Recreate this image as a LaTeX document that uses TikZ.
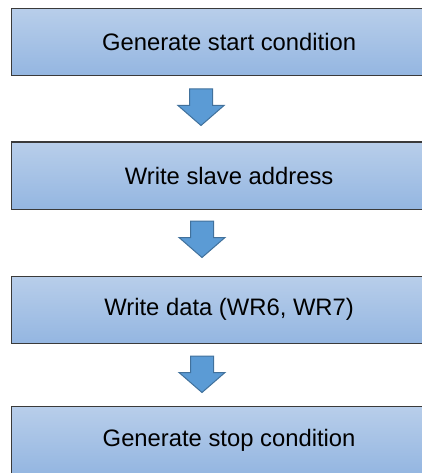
\documentclass[tikz,border=0pt]{standalone}
\usepackage{fontspec}
\setmainfont{Liberation Sans}
\definecolor{boxtop}{HTML}{B8CEEA}
\definecolor{boxbot}{HTML}{94B6E1}
\definecolor{boxline}{HTML}{3A3A3A}
\definecolor{arrfill}{HTML}{5B9BD5}
\definecolor{arrline}{HTML}{41719C}
\begin{document}
\begin{tikzpicture}[x=1pt,y=-1pt,
  stepbox/.style={draw=boxline, line width=1.2pt, top color=boxtop, bottom color=boxbot,
    minimum width=436pt, minimum height=67pt, inner sep=0pt, anchor=north west,
    font=\fontsize{23.8}{28}\selectfont},
  blockarrow/.style={draw=arrline, fill=arrfill, line width=1pt, line join=miter}]
\useasboundingbox (0,0) rectangle (422,473);
\node[stepbox] (b1) at (10.5,8) {Generate start condition};
\node[stepbox] (b2) at (10.5,141.5) {Write slave address};
\node[stepbox] (b3) at (10.5,275.5) {Write data (WR6, WR7)};
\node[stepbox] (b4) at (10.5,406) {Generate stop condition};
\coordinate (a1) at (201,89);
\coordinate (a2) at (202,221);
\coordinate (a3) at (202,356);
\foreach \a in {a1,a2,a3}{
  \draw[blockarrow] (\a) +(-11.5,0) -- +(11.5,0) -- +(11.5,16.5) -- +(23,16.5) -- +(0,36.5)
    -- +(-23,16.5) -- +(-11.5,16.5) -- cycle;
}
\end{tikzpicture}
\end{document}
